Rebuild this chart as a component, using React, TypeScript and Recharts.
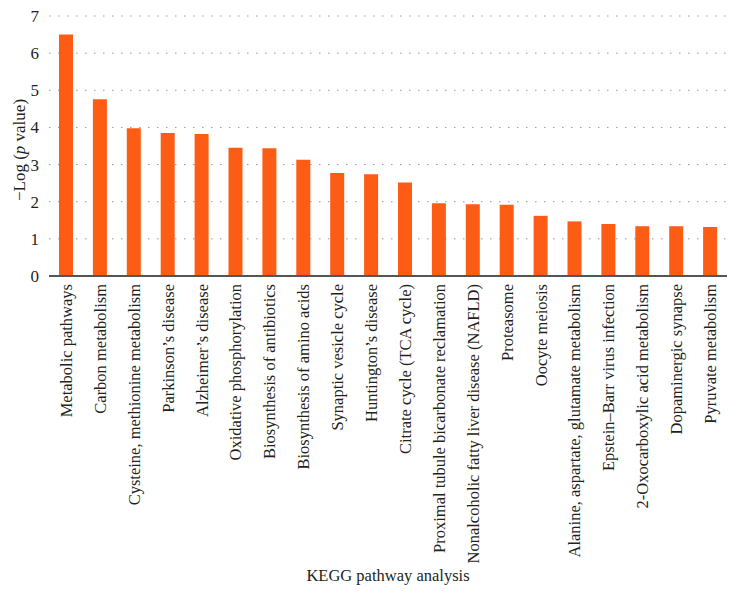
import React from "react";
import { BarChart, Bar, XAxis, YAxis, CartesianGrid, Label } from "recharts";

const pathways = [
  "Metabolic pathways",
  "Carbon metabolism",
  "Cysteine, methionine metabolism",
  "Parkinson\u2019s disease",
  "Alzheimer\u2019s disease",
  "Oxidative phosphorylation",
  "Biosynthesis of antibiotics",
  "Biosynthesis of amino acids",
  "Synaptic vesicle cycle",
  "Huntington\u2019s disease",
  "Citrate cycle (TCA cycle)",
  "Proximal tubule bicarbonate reclamation",
  "Nonalcoholic fatty liver disease (NAFLD)",
  "Proteasome",
  "Oocyte meiosis",
  "Alanine, aspartate, glutamate metabolism",
  "Epstein\u2013Barr virus infection",
  "2-Oxocarboxylic acid metabolism",
  "Dopaminergic synapse",
  "Pyruvate metabolism",
];

const negLogP = [
  6.5, 4.76, 3.98, 3.85, 3.82, 3.45, 3.44, 3.13, 2.77, 2.74, 2.52, 1.96, 1.93,
  1.92, 1.62, 1.47, 1.4, 1.34, 1.34, 1.32,
];

const yTicks = [0, 1, 2, 3, 4, 5, 6, 7];

const data = pathways.map((name, i) => ({ name, value: negLogP[i] }));

const FONT = "'Liberation Serif', 'DejaVu Serif', serif";

const XTick = (props: any) => {
  const { x, y, payload } = props;
  return (
    <g transform={`translate(${x},${y})`}>
      <text
        transform="rotate(-90)"
        x={0}
        y={0}
        dy={6}
        textAnchor="end"
        fill="#231f20"
        fontSize={16.5}
        fontFamily={FONT}
      >
        {payload.value}
      </text>
    </g>
  );
};

export default function App() {
  return (
    <div style={{ position: "absolute", left: 0, top: 0, background: "#fff" }}>
      <BarChart
        width={737}
        height={595}
        data={data}
        margin={{ top: 16, right: 10, bottom: 5, left: 0 }}
        barCategoryGap={0}
      >
        <CartesianGrid
          vertical={false}
          stroke="#9a9a9a"
          strokeDasharray="1.5 7.5"
        />
        <XAxis
          dataKey="name"
          interval={0}
          height={314}
          tickLine={false}
          axisLine={{ stroke: "#555", strokeWidth: 2 }}
          tick={<XTick />}
        >
          <Label
            value="KEGG pathway analysis"
            position="insideBottom"
            offset={9}
            style={{ fontFamily: FONT, fontSize: 16.5, fill: "#231f20" }}
          />
        </XAxis>
        <YAxis
          width={49}
          domain={[0, 7]}
          ticks={yTicks}
          interval={0}
          axisLine={false}
          tickLine={false}
          tickMargin={4}
          tick={{ fontFamily: FONT, fontSize: 17, fill: "#231f20" }}
        />
        <text
          transform="translate(19,150) rotate(-90)"
          textAnchor="middle"
          dominantBaseline="central"
          fontFamily={FONT}
          fontSize={17}
          fill="#231f20"
        >
          {"\u2212Log ("}
          <tspan fontStyle="italic">p</tspan>
          {" value)"}
        </text>
        <Bar
          dataKey="value"
          fill="#fd5c14"
          barSize={14}
          isAnimationActive={false}
        />
      </BarChart>
    </div>
  );
}
